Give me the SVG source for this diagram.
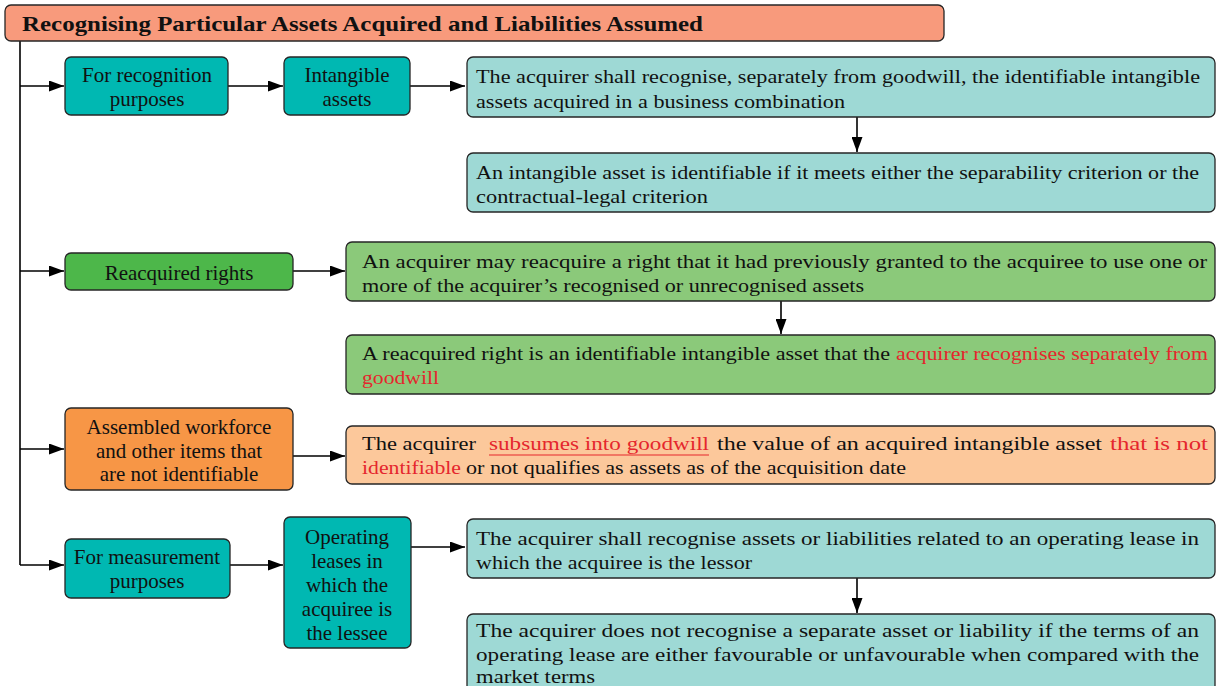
<svg xmlns="http://www.w3.org/2000/svg" width="1227" height="686" viewBox="0 0 1227 686" font-family="'Liberation Serif', 'DejaVu Serif', serif">
  <style>
    .box { stroke: #262626; stroke-width: 1.3; }
    .title { fill: #F89A7C; }
    .teal { fill: #00B8B2; }
    .lteal { fill: #9ED9D5; }
    .green { fill: #4DB74A; }
    .lgreen { fill: #8BC97A; }
    .orange { fill: #F79646; }
    .lorange { fill: #FCC89B; }
    text { font-family: "Liberation Serif", "DejaVu Serif", serif; fill: #111; }
    .head { font-size: 21px; font-weight: bold; }
    .lbl { font-size: 21px; text-anchor: middle; }
    .body { font-size: 19.5px; }
    .red { fill: #E5262D; }
    .conn { stroke: #000; stroke-width: 1.6; fill: none; }
  </style>
  <defs>
    <marker id="arrow" markerUnits="userSpaceOnUse" markerWidth="15" markerHeight="11" refX="15" refY="5.5" orient="auto">
      <path d="M0,0 L15,5.5 L0,11 Z" fill="#000"/>
    </marker>
  </defs>

  <rect width="1227" height="686" fill="#fff"/>

  <!-- connectors -->
  <g id="connectors">
    <path class="conn" d="M20,41 V565"/>
    <path class="conn" d="M20,86 H64" marker-end="url(#arrow)"/>
    <path class="conn" d="M20,271 H64" marker-end="url(#arrow)"/>
    <path class="conn" d="M20,449 H64" marker-end="url(#arrow)"/>
    <path class="conn" d="M20,565 H64" marker-end="url(#arrow)"/>
    <path class="conn" d="M228,86 H283" marker-end="url(#arrow)"/>
    <path class="conn" d="M410,86 H465" marker-end="url(#arrow)"/>
    <path class="conn" d="M857,117 V152" marker-end="url(#arrow)"/>
    <path class="conn" d="M293,271 H345" marker-end="url(#arrow)"/>
    <path class="conn" d="M781,301 V334" marker-end="url(#arrow)"/>
    <path class="conn" d="M293,456 H345" marker-end="url(#arrow)"/>
    <path class="conn" d="M230,565 H283" marker-end="url(#arrow)"/>
    <path class="conn" d="M411,547 H465" marker-end="url(#arrow)"/>
    <path class="conn" d="M857,578 V613" marker-end="url(#arrow)"/>
  </g>

  <!-- title -->
  <g id="title">
    <rect class="box title" x="5" y="5" width="939" height="36" rx="6"/>
    <text class="head" x="22" y="31" textLength="681" lengthAdjust="spacingAndGlyphs">Recognising Particular Assets Acquired and Liabilities Assumed</text>
  </g>

  <!-- recognition branch -->
  <g id="for-recognition">
    <rect class="box teal" x="65" y="57" width="163" height="58" rx="6"/>
    <text class="lbl" x="147" y="82">For recognition</text>
    <text class="lbl" x="147" y="106">purposes</text>
  </g>
  <g id="intangible-assets">
    <rect class="box teal" x="284" y="57" width="126" height="58" rx="6"/>
    <text class="lbl" x="347" y="82">Intangible</text>
    <text class="lbl" x="347" y="106">assets</text>
  </g>
  <g id="recognise-intangibles">
    <rect class="box lteal" x="467" y="57" width="748" height="60" rx="6"/>
    <text class="body" x="476" y="83" textLength="724" lengthAdjust="spacingAndGlyphs">The acquirer shall recognise, separately from goodwill, the identifiable intangible</text>
    <text class="body" x="476" y="108" textLength="369" lengthAdjust="spacingAndGlyphs">assets acquired in a business combination</text>
  </g>
  <g id="identifiable-criteria">
    <rect class="box lteal" x="467" y="153" width="748" height="59" rx="6"/>
    <text class="body" x="476" y="179" textLength="723" lengthAdjust="spacingAndGlyphs">An intangible asset is identifiable if it meets either the separability criterion or the</text>
    <text class="body" x="476" y="203" textLength="232" lengthAdjust="spacingAndGlyphs">contractual-legal criterion</text>
  </g>

  <!-- reacquired rights branch -->
  <g id="reacquired-rights">
    <rect class="box green" x="65" y="253" width="228" height="37" rx="6"/>
    <text class="lbl" x="179" y="280">Reacquired rights</text>
  </g>
  <g id="reacquire-right">
    <rect class="box lgreen" x="346" y="242" width="869" height="59" rx="6"/>
    <text class="body" x="362" y="268" textLength="845" lengthAdjust="spacingAndGlyphs">An acquirer may reacquire a right that it had previously granted to the acquiree to use one or</text>
    <text class="body" x="362" y="292" textLength="502" lengthAdjust="spacingAndGlyphs">more of the acquirer’s recognised or unrecognised assets</text>
  </g>
  <g id="reacquired-identifiable">
    <rect class="box lgreen" x="346" y="335" width="869" height="59" rx="6"/>
    <text class="body" x="362" y="360" textLength="528" lengthAdjust="spacingAndGlyphs">A reacquired right is an identifiable intangible asset that the</text>
    <text class="body red" x="896" y="360" textLength="312" lengthAdjust="spacingAndGlyphs">acquirer recognises separately from</text>
    <text class="body red" x="362" y="384" textLength="77" lengthAdjust="spacingAndGlyphs">goodwill</text>
  </g>

  <!-- assembled workforce branch -->
  <g id="assembled-workforce">
    <rect class="box orange" x="65" y="408" width="228" height="82" rx="6"/>
    <text class="lbl" x="179" y="434">Assembled workforce</text>
    <text class="lbl" x="179" y="458">and other items that</text>
    <text class="lbl" x="179" y="481">are not identifiable</text>
  </g>
  <g id="subsumed-goodwill">
    <rect class="box lorange" x="346" y="426" width="869" height="58" rx="6"/>
    <text class="body" x="362" y="450" textLength="114" lengthAdjust="spacingAndGlyphs">The acquirer</text>
    <text class="body red" x="489" y="450" textLength="220" lengthAdjust="spacingAndGlyphs">subsumes into goodwill</text>
    <line x1="489" y1="455" x2="709" y2="455" stroke="#E5262D" stroke-width="1.2"/>
    <text class="body" x="717" y="450" textLength="385" lengthAdjust="spacingAndGlyphs">the value of an acquired intangible asset</text>
    <text class="body red" x="1110" y="450" textLength="98" lengthAdjust="spacingAndGlyphs">that is not</text>
    <text class="body red" x="362" y="474" textLength="99" lengthAdjust="spacingAndGlyphs">identifiable</text>
    <text class="body" x="466" y="474" textLength="440" lengthAdjust="spacingAndGlyphs">or not qualifies as assets as of the acquisition date</text>
  </g>

  <!-- measurement branch -->
  <g id="for-measurement">
    <rect class="box teal" x="65" y="539" width="165" height="59" rx="6"/>
    <text class="lbl" x="147" y="564">For measurement</text>
    <text class="lbl" x="147" y="588">purposes</text>
  </g>
  <g id="operating-leases">
    <rect class="box teal" x="284" y="517" width="127" height="131" rx="6"/>
    <text class="lbl" x="347" y="544">Operating</text>
    <text class="lbl" x="347" y="568">leases in</text>
    <text class="lbl" x="347" y="592">which the</text>
    <text class="lbl" x="347" y="616">acquiree is</text>
    <text class="lbl" x="347" y="640">the lessee</text>
  </g>
  <g id="lessor-lease">
    <rect class="box lteal" x="467" y="519" width="748" height="59" rx="6"/>
    <text class="body" x="476" y="545" textLength="723" lengthAdjust="spacingAndGlyphs">The acquirer shall recognise assets or liabilities related to an operating lease in</text>
    <text class="body" x="476" y="569" textLength="276" lengthAdjust="spacingAndGlyphs">which the acquiree is the lessor</text>
  </g>
  <g id="lease-terms">
    <rect class="box lteal" x="467" y="614" width="748" height="80" rx="6"/>
    <text class="body" x="476" y="637" textLength="723" lengthAdjust="spacingAndGlyphs">The acquirer does not recognise a separate asset or liability if the terms of an</text>
    <text class="body" x="476" y="661" textLength="723" lengthAdjust="spacingAndGlyphs">operating lease are either favourable or unfavourable when compared with the</text>
    <text class="body" x="476" y="683" textLength="119" lengthAdjust="spacingAndGlyphs">market terms</text>
  </g>
</svg>
